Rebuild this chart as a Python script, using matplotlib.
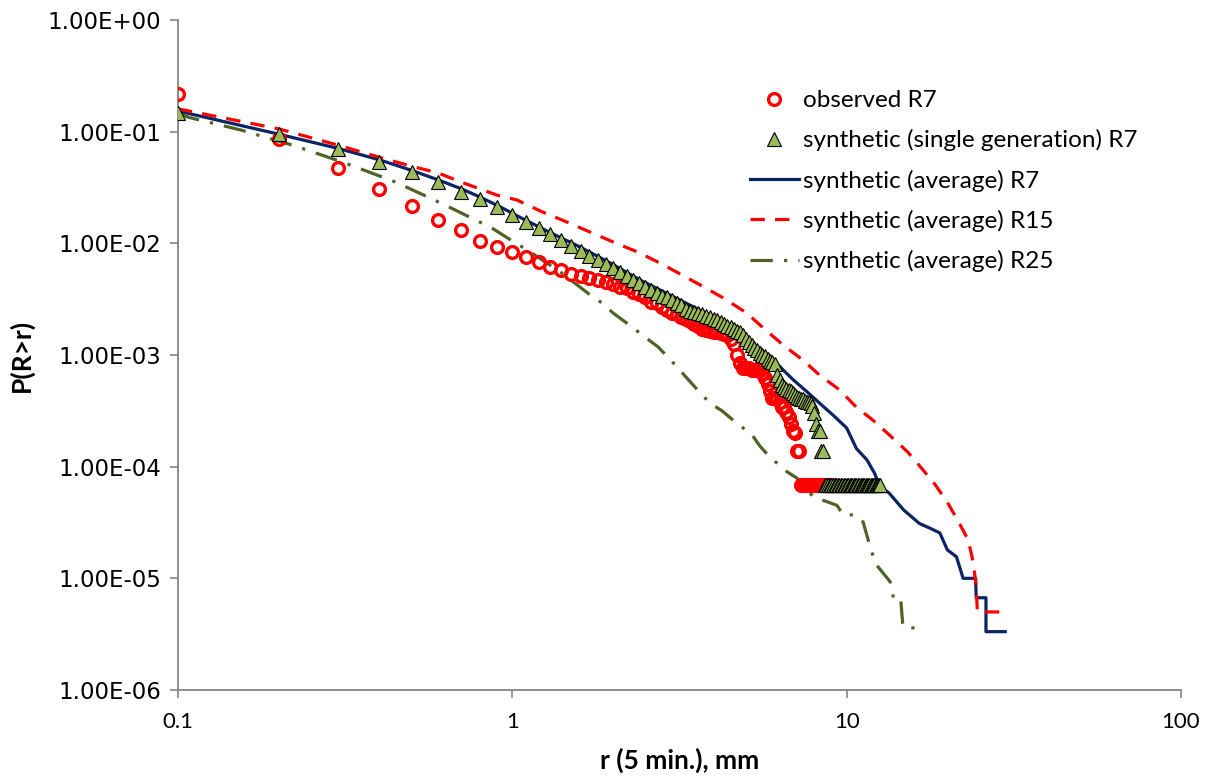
import matplotlib
matplotlib.use("Agg")
import matplotlib.pyplot as plt
from matplotlib.ticker import FixedLocator, FuncFormatter, NullLocator

# observed R7 (red open circles), r in mm, P(R>r)
obs_r = [0.1, 0.2, 0.3, 0.4, 0.5, 0.6, 0.7, 0.8, 0.9, 1.0,
         1.1, 1.2, 1.3, 1.4, 1.5, 1.6, 1.7, 1.8, 1.9, 2.0,
         2.1, 2.2, 2.3, 2.4, 2.5, 2.6, 2.7, 2.8, 2.9, 3.0,
         3.1, 3.2, 3.3, 3.4, 3.5, 3.6, 3.7, 3.8, 3.9, 4.0,
         4.1, 4.2, 4.3, 4.4, 4.5, 4.6, 4.7, 4.8, 4.9, 5.0,
         5.1, 5.2, 5.3, 5.4, 5.5, 5.6, 5.7, 5.8, 5.9, 6.0,
         6.1, 6.2, 6.3, 6.4, 6.5, 6.6, 6.7, 6.8, 6.9, 7.0,
         7.1, 7.2, 7.3, 7.4, 7.5, 7.6, 7.7, 7.8, 7.9, 8.0,
         8.1, 8.2, 8.3, 8.4, 8.5, 8.6, 8.7, 8.8, 8.9, 9.0, 9.1]
obs_p = [0.216, 0.086, 0.047, 0.0307, 0.0216, 0.0162, 0.0132, 0.0105, 0.0093, 0.0084,
         0.0076, 0.0068, 0.0062, 0.0058, 0.0053, 0.0051, 0.0049, 0.0047, 0.0045, 0.0043,
         0.0041, 0.0040, 0.0037, 0.0035, 0.0033, 0.0030, 0.0029, 0.0027, 0.00255, 0.0024,
         0.00235, 0.0022, 0.0021, 0.0020, 0.0019, 0.0018, 0.00172, 0.00168, 0.00163, 0.00162,
         0.0016, 0.00158, 0.00155, 0.0015, 0.0014, 0.00125, 0.0010, 0.00085, 0.00077, 0.00076,
         0.00076, 0.00074, 0.00074, 0.00074, 0.00074, 0.00069, 0.00062, 0.00055, 0.00048, 0.00041,
         0.00041, 0.00041, 0.00038, 0.00034, 0.00034, 0.00031, 0.00028, 0.00024, 0.00021, 0.0002,
         0.000138, 0.000138, 6.9e-5, 6.9e-5, 6.9e-5, 6.9e-5, 6.9e-5, 6.9e-5, 6.9e-5, 6.9e-5,
         6.9e-5, 6.9e-5, 6.9e-5, 6.9e-5, 6.9e-5, 6.9e-5, 6.9e-5, 6.9e-5, 6.9e-5, 6.9e-5, 6.9e-5]

# synthetic single generation R7 (triangles)
sgl_r = [0.1, 0.2, 0.3, 0.4, 0.5, 0.6, 0.7, 0.8, 0.9, 1.0,
         1.1, 1.2, 1.3, 1.4, 1.5, 1.6, 1.7, 1.8, 1.9, 2.0,
         2.1, 2.2, 2.3, 2.4, 2.5, 2.6, 2.7, 2.8, 2.9, 3.0,
         3.1, 3.2, 3.3, 3.4, 3.5, 3.6, 3.7, 3.8, 3.9, 4.0,
         4.1, 4.2, 4.3, 4.4, 4.5, 4.6, 4.7, 4.8, 4.9, 5.0,
         5.1, 5.2, 5.3, 5.4, 5.5, 5.6, 5.7, 5.8, 5.9, 6.0,
         6.1, 6.2, 6.3, 6.4, 6.5, 6.6, 6.7, 6.8, 6.9, 7.0,
         7.1, 7.2, 7.3, 7.4, 7.5, 7.6, 7.7, 7.8, 7.9, 8.0,
         8.1, 8.2, 8.3, 8.4, 8.5, 8.6, 8.7, 8.8, 8.9, 9.0,
         9.1, 9.2, 9.3, 9.4, 9.5, 9.6, 9.7, 9.8, 9.9, 10.0,
         10.1, 10.2, 10.3, 10.4, 10.5, 10.6, 10.7, 10.8, 10.9, 11.0,
         11.1, 11.2, 11.3, 11.4, 11.5, 11.6, 11.7, 11.8, 11.9, 12.0,
         12.1, 12.2, 12.3, 12.4, 12.5, 12.6]
sgl_p = [0.148, 0.095, 0.070, 0.054, 0.0436, 0.0355, 0.0288, 0.025, 0.021, 0.018,
         0.0156, 0.0137, 0.0121, 0.0107, 0.0095, 0.0086, 0.0077, 0.0071, 0.0065, 0.0060,
         0.0055, 0.0051, 0.0047, 0.0044, 0.0041, 0.0038, 0.0036, 0.0034, 0.0033, 0.0031,
         0.0029, 0.0028, 0.0026, 0.0025, 0.00245, 0.0024, 0.00232, 0.00225, 0.00218, 0.0021,
         0.00205, 0.00198, 0.0019, 0.00183, 0.00178, 0.0017, 0.00165, 0.0016, 0.0015, 0.0014,
         0.0013, 0.00122, 0.00115, 0.0011, 0.00105, 0.00101, 0.00097, 0.00093, 0.00089, 0.00086,
         0.00083, 0.00066, 0.0006, 0.00054, 0.00052, 0.0005, 0.00049, 0.00048, 0.00046, 0.00044,
         0.00042, 0.00041, 0.0004, 0.0004, 0.00039, 0.00038, 0.00038, 0.00037, 0.00035, 0.0003,
         0.00024, 0.00021, 0.00021, 0.000138, 0.000138, 6.9e-5, 6.9e-5, 6.9e-5, 6.9e-5, 6.9e-5,
         6.9e-5, 6.9e-5, 6.9e-5, 6.9e-5, 6.9e-5, 6.9e-5, 6.9e-5, 6.9e-5, 6.9e-5, 6.9e-5,
         6.9e-5, 6.9e-5, 6.9e-5, 6.9e-5, 6.9e-5, 6.9e-5, 6.9e-5, 6.9e-5, 6.9e-5, 6.9e-5,
         6.9e-5, 6.9e-5, 6.9e-5, 6.9e-5, 6.9e-5, 6.9e-5, 6.9e-5, 6.9e-5, 6.9e-5, 6.9e-5,
         6.9e-5, 6.9e-5, 6.9e-5, 6.9e-5, 6.9e-5, 6.9e-5]

# synthetic average R7 (solid navy)
avg7_r = [0.1, 0.2, 0.3, 0.4, 0.5, 0.6, 0.7, 0.8, 0.92, 1.05, 1.29, 1.59, 1.96, 2.41,
          2.96, 3.63, 4.46, 5.12, 6.0, 6.5, 6.92, 7.6, 8.3, 9.1, 10.0, 10.7, 11.5,
          12.1, 12.6, 13.4, 14.8, 16.5, 17.8, 19.0, 20.0, 21.3, 22.3, 24.3, 24.4,
          26.1, 26.1, 29.8]
avg7_p = [0.153, 0.095, 0.071, 0.056, 0.045, 0.037, 0.031, 0.026, 0.0212, 0.0172,
          0.0126, 0.0093, 0.00668, 0.0047, 0.00345, 0.00253, 0.00185, 0.00135, 0.00092,
          0.00072, 0.0006, 0.00047, 0.00037, 0.00029, 0.000222, 0.000145, 0.000115,
          8.8e-5, 6.6e-5, 5.8e-5, 4.1e-5, 3.1e-5, 2.8e-5, 2.55e-5, 1.8e-5, 1.56e-5,
          1.0e-5, 1.0e-5, 6.7e-6, 6.7e-6, 3.33e-6, 3.33e-6]

# synthetic average R15 (red dashed)
avg15_r = [0.1, 0.2, 0.3, 0.4, 0.5, 0.6, 0.7, 0.8, 0.9, 1.03, 1.23, 1.45, 1.71, 2.0,
           2.36, 2.76, 3.22, 3.72, 4.27, 5.02, 5.5, 6.45, 7.4, 8.3, 9.5, 10.7, 12.0,
           13.4, 15.2, 16.6, 18.4, 20.0, 21.5, 23.1, 23.9, 24.4, 24.6, 29.2]
avg15_p = [0.16, 0.106, 0.076, 0.059, 0.049, 0.0427, 0.0355, 0.0307, 0.027, 0.0245,
           0.0191, 0.0156, 0.0126, 0.0103, 0.0084, 0.00668, 0.0052, 0.0041, 0.00325,
           0.00238, 0.00186, 0.00123, 0.0009, 0.00066, 0.00049, 0.00034, 0.00026,
           0.000193, 0.000136, 0.0001, 6.9e-5, 4.8e-5, 3.3e-5, 2.2e-5, 1.4e-5, 8.4e-6,
           5.0e-6, 5.0e-6]

# synthetic average R25 (olive dash-dot)
avg25_r = [0.1, 0.107, 0.155, 0.224, 0.316, 0.446, 0.62, 0.869, 1.02, 1.11, 1.39,
           1.71, 1.87, 2.0, 2.3, 2.49, 2.73, 3.03, 3.24, 3.47, 3.9, 4.24, 4.58, 5.21,
           5.5, 5.89, 6.63, 7.1, 7.93, 8.5, 9.36, 9.75, 10.6, 11.2, 11.7, 12.2, 13.5,
           13.8, 14.5, 14.7, 14.9, 16.4]
avg25_p = [0.148, 0.135, 0.103, 0.0745, 0.0524, 0.0355, 0.0225, 0.0137, 0.0101,
           0.0087, 0.00555, 0.00345, 0.00287, 0.00238, 0.00175, 0.00145, 0.00118,
           0.00085, 0.00068, 0.00054, 0.00037, 0.000316, 0.00026, 0.000193, 0.000153,
           0.000122, 9.0e-5, 7.9e-5, 5.4e-5, 5.0e-5, 4.5e-5, 3.7e-5, 3.7e-5, 3.2e-5,
           2.0e-5, 1.35e-5, 9.3e-6, 6.7e-6, 6.7e-6, 4.0e-6, 3.6e-6, 3.6e-6]

y_ticks = [1e-6, 1e-5, 1e-4, 1e-3, 1e-2, 1e-1, 1.0]
x_ticks = [0.1, 1, 10, 100]
x_tick_labels = ["0.1", "1", "10", "100"]

fig = plt.figure(figsize=(12.1, 7.83), dpi=100)
ax = fig.add_axes([178 / 1210, 1 - 690 / 783, (1181 - 178) / 1210, (690 - 20) / 783])

ax.plot(avg7_r, avg7_p, color="#0b2466", lw=2.3, label="synthetic (average) R7", zorder=2)
ax.plot(avg15_r, avg15_p, color="#ff0000", lw=2.3, dashes=(4.5, 3.2), label="synthetic (average) R15", zorder=2)
ax.plot(avg25_r, avg25_p, color="#4f6228", lw=2.3, dashes=(7, 3.5, 1, 3.5), label="synthetic (average) R25", zorder=2)
ax.plot(obs_r, obs_p, ls="none", marker="o", ms=8.5, mfc="none", mec="#ff0000", mew=2.4,
        label="observed R7", zorder=3)
ax.plot(sgl_r, sgl_p, ls="none", marker="^", ms=10, mfc="#9bbb59", mec="black", mew=0.8,
        label="synthetic (single generation) R7", zorder=4)

ax.set_xscale("log")
ax.set_yscale("log")
ax.set_xlim(0.1, 100)
ax.set_ylim(1e-6, 1)

ax.xaxis.set_major_locator(FixedLocator(x_ticks))
ax.xaxis.set_major_formatter(FuncFormatter(lambda v, pos: x_tick_labels[x_ticks.index(v)] if v in x_ticks else ""))
ax.xaxis.set_minor_locator(NullLocator())
ax.yaxis.set_major_locator(FixedLocator(y_ticks))
ax.yaxis.set_major_formatter(FuncFormatter(lambda v, pos: f"{v:.2E}"))
ax.yaxis.set_minor_locator(NullLocator())

for s in ["top", "right"]:
    ax.spines[s].set_visible(False)
for s in ["left", "bottom"]:
    ax.spines[s].set_color("#868686")
    ax.spines[s].set_linewidth(1.3)
ax.tick_params(axis="both", which="major", direction="out", length=6, width=1.2, color="#868686")
ax.tick_params(axis="y", labelsize=16.5, pad=6)
ax.tick_params(axis="x", labelsize=16, pad=10)
for t in ax.get_yticklabels():
    t.set_family("DejaVu Sans")
for t in ax.get_xticklabels():
    t.set_family("Lato")

ax.set_xlabel("r (5 min.), mm", fontsize=19, fontweight="bold", family="Lato", labelpad=11)
ax.set_ylabel("P(R>r)", fontsize=19, fontweight="bold", family="Lato", labelpad=10)

h, l = ax.get_legend_handles_labels()
order = [3, 4, 0, 1, 2]
leg = ax.legend([h[i] for i in order], [l[i] for i in order], loc="upper left",
                bbox_to_anchor=(750 / 1210, 1 - 90 / 783), bbox_transform=fig.transFigure,
                frameon=False, handlelength=2.0, handletextpad=0.2,
                labelspacing=0.75, borderaxespad=0, borderpad=0,
                prop={"family": "Lato", "size": 17.5})

fig.savefig("out.png", dpi=100)
